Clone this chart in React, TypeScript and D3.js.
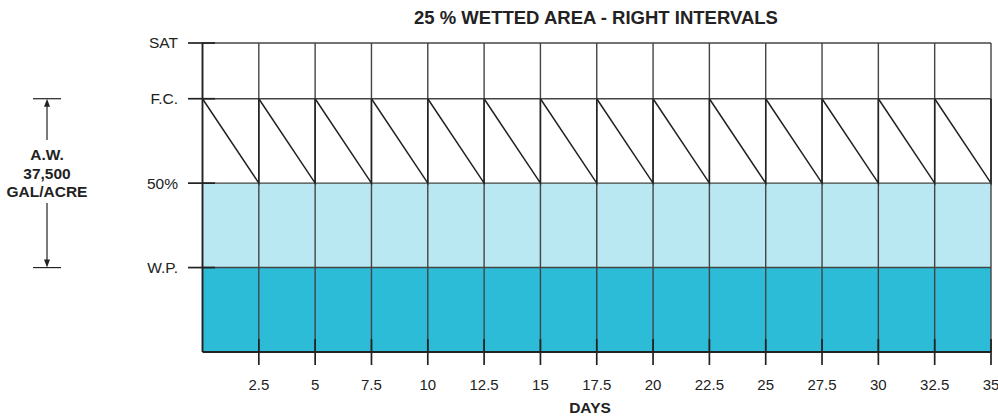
import React from "react";
import * as d3 from "d3";

const title = "25 % WETTED AREA - RIGHT INTERVALS";
const xLabel = "DAYS";
const xTicks = [2.5, 5, 7.5, 10, 12.5, 15, 17.5, 20, 22.5, 25, 27.5, 30, 32.5, 35];
const levelNames = ["SAT", "F.C.", "50%", "W.P."];
const levelValues = [133, 100, 50, 0];
const bottomValue = -50;
const irrigationDays = [0, 2.5, 5, 7.5, 10, 12.5, 15, 17.5, 20, 22.5, 25, 27.5, 30, 32.5];
const depletionLevel = 50;
const annotationLines = ["A.W.", "37,500", "GAL/ACRE"];

const W = 998;
const H = 416;

export default function App() {
  const x = d3.scaleLinear().domain([0, 35]).range([202.5, 991]);
  const y = d3.scaleLinear().domain([bottomValue, 133]).range([352, 43]);
  const sat = levelValues[0];
  const fc = levelValues[1];
  const half = levelValues[2];
  const wp = levelValues[3];
  const font = "'Liberation Sans', Arial, Helvetica, sans-serif";
  const line = d3.line<[number, number]>().x((d) => x(d[0])).y((d) => y(d[1]));
  const step = irrigationDays[1] - irrigationDays[0];
  const gridColor = "#444";
  const darkColor = "#222";

  const annX = 47;
  return (
    <svg width={W} height={H} style={{ position: "absolute", left: 0, top: 0, background: "#fff" }} fontFamily={font}>
      <text x={596} y={24} textAnchor="middle" fontWeight="bold" fontSize={18.5} fill="#222">{title}</text>
      {/* fills */}
      <rect x={x(0)} y={y(half)} width={x(35) - x(0)} height={y(wp) - y(half)} fill="#b9e8f3" />
      <rect x={x(0)} y={y(wp)} width={x(35) - x(0)} height={y(bottomValue) - y(wp)} fill="#2cbcd8" />
      {/* horizontal lines */}
      {levelValues.map((v, i) => (
        <g key={"h" + i}>
          <line x1={x(0)} x2={x(35)} y1={y(v)} y2={y(v)} stroke={gridColor} strokeWidth={1.4} />
          <line x1={188} x2={215} y1={y(v)} y2={y(v)} stroke={darkColor} strokeWidth={1.7} />
          <text x={178} y={y(v)} dy="0.35em" textAnchor="end" fontSize={15.5} fill="#222">{levelNames[i]}</text>
        </g>
      ))}
      {/* vertical grid lines */}
      {xTicks.map((t) => (
        <g key={"v" + t}>
          <line x1={x(t)} x2={x(t)} y1={y(sat)} y2={y(bottomValue)} stroke={gridColor} strokeWidth={1.4} />
          <line x1={x(t)} x2={x(t)} y1={y(bottomValue) - 13} y2={y(bottomValue) + 13} stroke={darkColor} strokeWidth={1.7} />
          <text x={x(t)} y={385} dy="0.35em" textAnchor="middle" fontSize={15} fill="#222">{t}</text>
        </g>
      ))}
      {/* sawtooth */}
      {irrigationDays.map((d) => (
        <path key={"s" + d} d={line([[d, fc], [d + step, depletionLevel], [d + step, fc]]) || ""} fill="none" stroke={darkColor} strokeWidth={1.5} />
      ))}
      {/* frame */}
      <line x1={x(0)} x2={x(0)} y1={y(sat)} y2={y(bottomValue)} stroke={darkColor} strokeWidth={1.9} />
      <line x1={x(0)} x2={x(35)} y1={y(bottomValue)} y2={y(bottomValue)} stroke={darkColor} strokeWidth={1.9} />
      <text x={590} y={413} textAnchor="middle" fontWeight="bold" fontSize={15.5} fill="#222">{xLabel}</text>
      {/* annotation */}
      <line x1={33} x2={61} y1={y(fc)} y2={y(fc)} stroke={darkColor} strokeWidth={1.2} />
      <line x1={33} x2={61} y1={y(wp)} y2={y(wp)} stroke={darkColor} strokeWidth={1.2} />
      <line x1={annX} x2={annX} y1={y(fc) + 6} y2={140} stroke={darkColor} strokeWidth={1.2} />
      <line x1={annX} x2={annX} y1={203} y2={y(wp) - 6} stroke={darkColor} strokeWidth={1.2} />
      <path d={`M${annX},${y(fc)} l-3,8 l6,0 z`} fill={darkColor} />
      <path d={`M${annX},${y(wp)} l-3,-8 l6,0 z`} fill={darkColor} />
      {annotationLines.map((s, i) => (
        <text key={s} x={annX} y={155 + i * 18.5} dy="0.35em" textAnchor="middle" fontWeight="bold" fontSize={15.5} fill="#222">{s}</text>
      ))}
    </svg>
  );
}
